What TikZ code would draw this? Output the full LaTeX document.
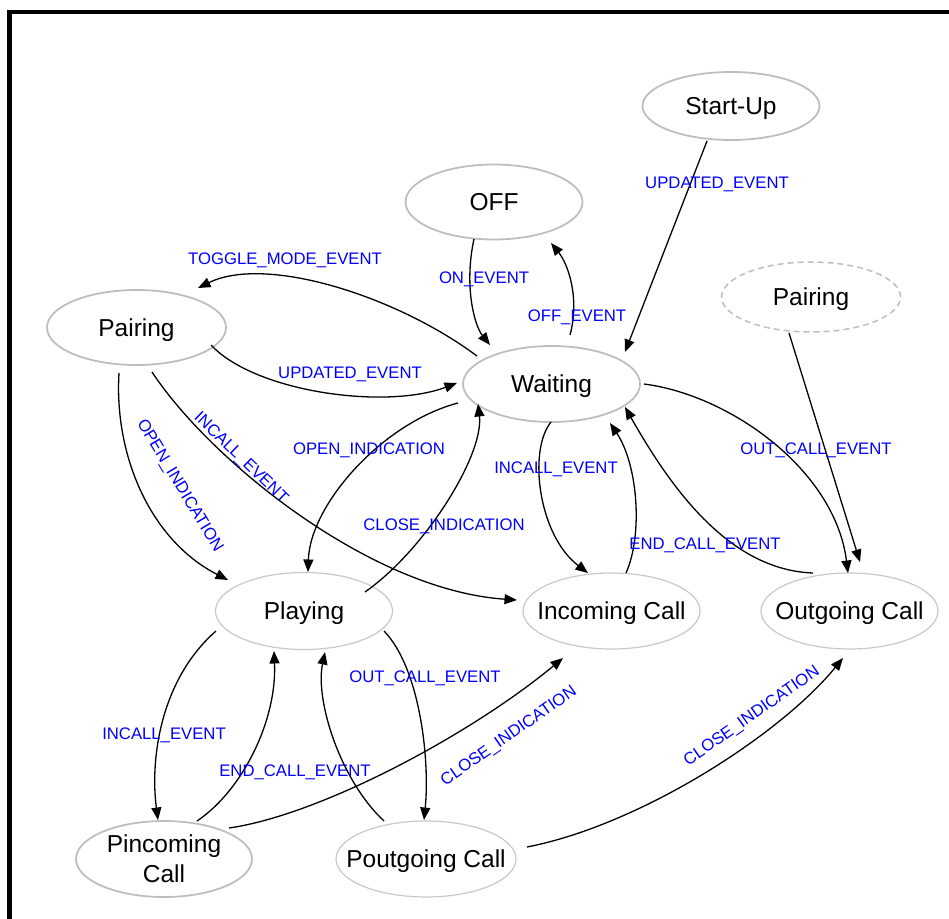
\documentclass[tikz,border=0pt]{standalone}
\usepackage{fontspec}
\setmainfont{Liberation Sans}
\usetikzlibrary{shapes.geometric,arrows.meta}
\definecolor{ringgray}{RGB}{190,190,190}
\definecolor{ringlight}{RGB}{200,200,200}
\definecolor{evblue}{RGB}{0,0,255}
\tikzset{
  stnode/.style={ellipse, draw=ringgray, line width=1.8pt, minimum width=177pt,
    minimum height=75pt, inner sep=0pt, font=\fontsize{24.5}{30}\selectfont},
  oneline/.style={text height=17.5pt, text depth=0pt},
  lightring/.style={draw=ringlight, line width=1.2pt},
  evlabel/.style={text=evblue, font=\fontsize{16.7}{20}\selectfont, inner sep=0pt,
    text height=12pt, text depth=0pt},
  trans/.style={draw=black, line width=1.3pt, -{Triangle[length=12.5pt,width=10pt]}},
}
\newcommand{\nb}[1]{\makebox[0pt]{#1}}
\begin{document}
\begin{tikzpicture}[x=1pt,y=-1pt]
\useasboundingbox (0,0) rectangle (949,918);
% outer frame
\draw[line width=4.6pt, line join=miter] (9.5,940) -- (9.5,12) -- (970,12);

% states
\node[stnode, oneline, minimum height=68pt] (su) at (731,106) {\nb{Start-Up}};
\node[stnode, oneline] (off) at (494,202) {\nb{OFF}};
\node[stnode, oneline, minimum height=76pt] (wt) at (551.5,384) {\nb{Waiting}};
\node[stnode, oneline, minimum width=179pt] (pl) at (136.5,327.5) {\nb{Pairing}};
\node[stnode, oneline, minimum width=179pt, minimum height=70pt, line width=1.5pt,
      dash pattern=on 6pt off 4pt] (pr) at (811,297) {\nb{Pairing}};
\node[stnode, oneline, lightring, minimum height=77pt] (py) at (304,611) {\nb{Playing}};
\node[stnode, oneline, lightring, minimum height=76pt] (ic) at (611.5,611) {\nb{Incoming Call}};
\node[stnode, oneline, lightring, minimum height=76pt] (oc) at (849.5,611) {\nb{Outgoing Call}};
\node[stnode, align=center, minimum width=176pt, minimum height=76pt] (pi) at (164,859) {Pincoming\\Call};
\node[stnode, oneline, lightring, minimum width=180pt, minimum height=76pt] (po) at (426,859) {\nb{Poutgoing Call}};

% transitions
\draw[trans] ([shift={(-24,35)}]su.center) -- ([shift={(73.5,-32)}]wt.center);
\draw[trans] ([shift={(-20,37)}]off.center) .. controls (464,285) and (474,325) .. ([shift={(-61.5,-39)}]wt.center);
\draw[trans] ([shift={(18.5,-49)}]wt.center) .. controls (580,298) and (568,264) .. ([shift={(57,41)}]off.center);
\draw[trans] ([shift={(-74.5,-28)}]wt.center) .. controls (395,295) and (265,255) .. ([shift={(61.5,-39.5)}]pl.center);
\draw[trans] ([shift={(74.5,17.5)}]pl.center) .. controls (255,392) and (385,410) .. ([shift={(-94.5,-1)}]wt.center);
\draw[trans] ([shift={(-17.5,45.5)}]pl.center) .. controls (114,455) and (150,540) .. ([shift={(-76,-31)}]py.center);
\draw[trans] ([shift={(15.5,44.5)}]pl.center) .. controls (210,460) and (370,590) .. ([shift={(-94.5,-11)}]ic.center);
\draw[trans] ([shift={(-93.5,19)}]wt.center) .. controls (382,423) and (310,505) .. ([shift={(4,-39)}]py.center);
\draw[trans] ([shift={(61,-19)}]py.center) .. controls (425,550) and (484,455) .. ([shift={(-73.5,20)}]wt.center);
\draw[trans] ([shift={(-0.5,38)}]wt.center) .. controls (528,450) and (538,535) .. ([shift={(-23.5,-38)}]ic.center);
\draw[trans] ([shift={(14.5,-38)}]ic.center) .. controls (643,535) and (638,465) .. ([shift={(58.5,39)}]wt.center);
\draw[trans] ([shift={(-36.5,-38)}]oc.center) .. controls (730,570) and (672,490) .. ([shift={(73.5,23)}]wt.center);
\draw[trans] ([shift={(92.5,0)}]wt.center) .. controls (730,395) and (835,470) .. ([shift={(-1.5,-38)}]oc.center);
\draw[trans] ([shift={(-22,36)}]pr.center) -- ([shift={(10.5,-49)}]oc.center);
\draw[trans] ([shift={(-88,20)}]py.center) .. controls (160,680) and (150,760) .. ([shift={(-6,-39)}]pi.center);
\draw[trans] ([shift={(33,-38)}]pi.center) .. controls (243,790) and (277,720) .. ([shift={(-30,40)}]py.center);
\draw[trans] ([shift={(-42,-38)}]po.center) .. controls (340,780) and (315,700) .. ([shift={(21,41)}]py.center);
\draw[trans] ([shift={(80,20)}]py.center) .. controls (420,668) and (430,760) .. ([shift={(-2,-39)}]po.center);
\draw[trans] ([shift={(65,-31)}]pi.center) .. controls (320,815) and (470,735) .. ([shift={(-48.5,47)}]ic.center);
\draw[trans] ([shift={(101,-12)}]po.center) .. controls (640,825) and (780,735) .. ([shift={(-6.5,47)}]oc.center);

% event labels
\node[evlabel] (l1) at (717,182) {UPDATED\_EVENT};
\node[evlabel] (l2) at (484,277) {ON\_EVENT};
\node[evlabel] (l3) at (577,315) {OFF\_EVENT};
\node[evlabel] (l4) at (285,258) {TOGGLE\_MODE\_EVENT};
\node[evlabel] (l5) at (350,372) {UPDATED\_EVENT};
\node[evlabel, rotate=-59] (l6) at (181,485) {OPEN\_INDICATION};
\node[evlabel, rotate=-44] (l7) at (242,457) {INCALL\_EVENT};
\node[evlabel] (l8) at (369,448) {OPEN\_INDICATION};
\node[evlabel] (l9) at (444,524) {CLOSE\_INDICATION};
\node[evlabel] (l10) at (556,467) {INCALL\_EVENT};
\node[evlabel] (l11) at (705,543) {END\_CALL\_EVENT};
\node[evlabel] (l12) at (816,448) {OUT\_CALL\_EVENT};
\node[evlabel] (l13) at (164,733) {INCALL\_EVENT};
\node[evlabel] (l14) at (295,770) {END\_CALL\_EVENT};
\node[evlabel] (l15) at (425,676) {OUT\_CALL\_EVENT};
\node[evlabel, rotate=35] (l16) at (508,735) {CLOSE\_INDICATION};
\node[evlabel, rotate=35] (l17) at (751,715) {CLOSE\_INDICATION};
\end{tikzpicture}
\end{document}
